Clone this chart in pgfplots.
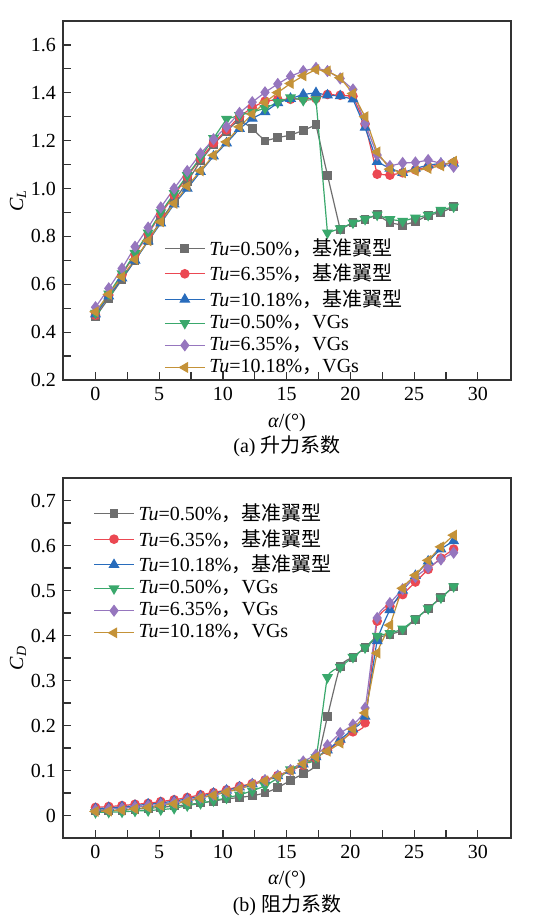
\documentclass[border=0pt]{standalone}
\usepackage{fontspec}
\setmainfont{Liberation Serif}
\newfontfamily\cjk{Noto Sans CJK SC}
\usepackage{pgfplots}
\usepackage{pgfplotstable}
\pgfplotsset{compat=1.18}

\definecolor{cgray}{RGB}{110,110,110}
\definecolor{cred}{RGB}{235,72,82}
\definecolor{cblue}{RGB}{40,108,188}
\definecolor{cgreen}{RGB}{58,168,108}
\definecolor{cpurple}{RGB}{150,118,190}
\definecolor{cgold}{RGB}{196,146,56}

% lift coefficient C_L versus angle of attack
% g/r/b: baseline airfoil at Tu = 0.50/6.35/10.18 %, v/p/o: with VGs
\pgfplotstableread{
a      g      r      b      v      p      o
0      0.464  0.471  0.475  0.480  0.504  0.485
1.04   0.541  0.555  0.550  0.560  0.583  0.558
2.08   0.620  0.640  0.625  0.645  0.666  0.631
3.10   0.700  0.725  0.700  0.730  0.757  0.704
4.13   0.783  0.810  0.780  0.815  0.837  0.782
5.12   0.866  0.893  0.855  0.900  0.921  0.861
6.17   0.948  0.972  0.935  0.980  1.000  0.938
7.20   1.028  1.050  1.000  1.055  1.073  1.010
8.24   1.115  1.125  1.070  1.130  1.146  1.074
9.26   1.185  1.190  1.135  1.210  1.206  1.139
10.28  1.240  1.245  1.190  1.290  1.258  1.195
11.30  1.290  1.300  1.250  1.306  1.316  1.258
12.30  1.250  1.339  1.293  1.320  1.361  1.311
13.30  1.199  1.365  1.320  1.335  1.402  1.360
14.30  1.213  1.372  1.358  1.360  1.437  1.401
15.30  1.223  1.373  1.376  1.380  1.469  1.439
16.30  1.243  1.376  1.393  1.369  1.491  1.471
17.30  1.266  1.376  1.400  1.372  1.504  1.497
18.20  1.056  1.393  1.390  0.815  1.491  1.491
19.20  0.829  1.390  1.387  0.833  1.460  1.463
20.20  0.857  1.386  1.373  0.857  1.414  1.397
21.15  0.872  1.270  1.255  0.872  1.272  1.300
22.10  0.890  1.060  1.112  0.890  1.140  1.153
23.10  0.857  1.056  1.084  0.871  1.094  1.081
24.10  0.847  1.066  1.066  0.864  1.107  1.066
25.10  0.861  1.078  1.084  0.878  1.109  1.074
26.10  0.889  1.090  1.098  0.889  1.119  1.084
27.10  0.899  1.100  1.105  0.910  1.105  1.095
28.10  0.924  1.108  1.105  0.924  1.091  1.114
}\lift

% drag coefficient C_D versus angle of attack
\pgfplotstableread{
a      g      r      b      v      p      o
0      0.010  0.018  0.015  0.007  0.012  0.009
1.04   0.011  0.020  0.017  0.0075 0.014  0.010
2.08   0.012  0.022  0.019  0.008  0.016  0.012
3.10   0.014  0.025  0.022  0.010  0.019  0.015
4.13   0.016  0.027  0.025  0.011  0.022  0.018
5.12   0.018  0.031  0.028  0.013  0.025  0.022
6.17   0.021  0.035  0.032  0.016  0.029  0.026
7.20   0.024  0.040  0.037  0.022  0.034  0.031
8.24   0.028  0.046  0.043  0.027  0.040  0.039
9.26   0.032  0.051  0.049  0.033  0.046  0.045
10.28  0.037  0.057  0.056  0.039  0.053  0.052
11.30  0.040  0.065  0.063  0.046  0.061  0.059
12.30  0.044  0.071  0.070  0.055  0.069  0.068
13.30  0.050  0.079  0.078  0.066  0.078  0.077
14.30  0.062  0.089  0.088  0.083  0.088  0.087
15.30  0.078  0.100  0.100  0.102  0.101  0.100
16.30  0.093  0.112  0.114  0.117  0.120  0.115
17.30  0.113  0.128  0.130  0.129  0.135  0.130
18.20  0.220  0.145  0.145  0.307  0.156  0.143
19.20  0.332  0.165  0.169  0.330  0.183  0.161
20.20  0.352  0.186  0.192  0.352  0.202  0.192
21.15  0.373  0.206  0.220  0.373  0.239  0.228
22.10  0.395  0.432  0.388  0.399  0.439  0.361
23.10  0.402  0.465  0.457  0.405  0.472  0.423
24.10  0.412  0.491  0.500  0.415  0.503  0.505
25.10  0.436  0.519  0.533  0.437  0.530  0.534
26.10  0.460  0.547  0.565  0.460  0.551  0.567
27.10  0.484  0.572  0.592  0.484  0.569  0.597
28.10  0.508  0.592  0.610  0.509  0.584  0.623
}\drag

\pgfplotsset{
  coefplot/.style={
    scale only axis, width=224pt,
    xmin=-2.55, xmax=32.6,
    xtick={0,5,10,15,20,25,30}, minor x tick num=1,
    tick pos=left, tick align=inside,
    major tick length=4pt, minor tick length=4pt,
    axis line style={line width=0.8pt, black!80},
    every tick/.style={black!80, line width=0.6pt},
    tick label style={font=\fontsize{10}{12}\selectfont},
    label style={font=\fontsize{10}{12}\selectfont},
    /pgf/number format/assume math mode=true,
    xlabel={\textit{α}/(°)},
    clip=false,
    legend cell align=left,
    legend style={draw=none, fill=none, inner sep=0pt,
      font=\fontsize{10}{11.6}\selectfont, row sep=-1.1pt},
    legend image code/.code={\draw[mark repeat=2,mark phase=2]
      plot coordinates {(0pt,0pt) (10pt,0pt) (20pt,0pt)};},
  },
  sg/.style={color=cgray, line width=0.6pt, mark=square*, mark size=1.9pt, mark options={solid}},
  sr/.style={color=cred, line width=0.6pt, mark=*, mark size=2.1pt, mark options={solid}},
  sb/.style={color=cblue, line width=0.6pt, mark=triangle*, mark size=2.6pt, mark options={solid}},
  sv/.style={color=cgreen, line width=0.6pt, mark=triangle*, mark size=2.6pt, mark options={solid, rotate=180}},
  sp/.style={color=cpurple, line width=0.6pt, mark=diamond*, mark size=2.6pt, mark options={solid}},
  so/.style={color=cgold, line width=0.6pt, mark=triangle*, mark size=2.6pt, mark options={solid, rotate=90}},
}

\begin{document}
\begin{tikzpicture}
% (a) lift
\begin{axis}[coefplot,
  at={(31.5pt,-190pt)}, anchor=south west, height=179.5pt,
  ymin=0.2, ymax=1.7,
  ytick={0.2,0.4,0.6,0.8,1.0,1.2,1.4,1.6}, minor y tick num=1,
  yticklabel style={/pgf/number format/fixed, /pgf/number format/fixed zerofill,
    /pgf/number format/precision=1},
  ylabel={\textit{C}\textsubscript{\textit{L}}},
  ylabel style={at={(rel axis cs:-0.1004,0.5)}, anchor=center},
  xlabel style={at={(rel axis cs:0.5,-0.12)}, anchor=center},
  legend style={at={(rel axis cs:0.225,0.407)}, anchor=north west},
]
\addplot[sg] table[x=a,y=g] {\lift};
\addplot[sr] table[x=a,y=r] {\lift};
\addplot[sb] table[x=a,y=b] {\lift};
\addplot[sv] table[x=a,y=v] {\lift};
\addplot[sp] table[x=a,y=p] {\lift};
\addplot[so] table[x=a,y=o] {\lift};
\legend{\textit{Tu}=0.50\%{\cjk ，基准翼型},
        \textit{Tu}=6.35\%{\cjk ，基准翼型},
        \textit{Tu}=10.18\%{\cjk ，基准翼型},
        \textit{Tu}=0.50\%{\cjk ，}VGs,
        \textit{Tu}=6.35\%{\cjk ，}VGs,
        \textit{Tu}=10.18\%{\cjk ，}VGs}
\node[font=\fontsize{10}{12}\selectfont] at (rel axis cs:0.5,-0.184) {(a) {\cjk 升力系数}};
\end{axis}

% (b) drag
\begin{axis}[coefplot,
  at={(31.5pt,-419pt)}, anchor=south west, height=180pt,
  ymin=-0.05, ymax=0.75,
  ytick={0,0.1,0.2,0.3,0.4,0.5,0.6,0.7}, minor y tick num=1,
  yticklabel style={/pgf/number format/fixed},
  ylabel={\textit{C}\textsubscript{\textit{D}}},
  ylabel style={at={(rel axis cs:-0.1004,0.5)}, anchor=center},
  xlabel style={at={(rel axis cs:0.5,-0.117)}, anchor=center},
  legend style={at={(rel axis cs:0.067,0.941)}, anchor=north west},
]
\addplot[sg, smooth, tension=0.3] table[x=a,y=g] {\drag};
\addplot[sr, smooth, tension=0.3] table[x=a,y=r] {\drag};
\addplot[sb, smooth, tension=0.3] table[x=a,y=b] {\drag};
\addplot[sv, smooth, tension=0.3] table[x=a,y=v] {\drag};
\addplot[sp, smooth, tension=0.3] table[x=a,y=p] {\drag};
\addplot[so, smooth, tension=0.3] table[x=a,y=o] {\drag};
\legend{\textit{Tu}=0.50\%{\cjk ，基准翼型},
        \textit{Tu}=6.35\%{\cjk ，基准翼型},
        \textit{Tu}=10.18\%{\cjk ，基准翼型},
        \textit{Tu}=0.50\%{\cjk ，}VGs,
        \textit{Tu}=6.35\%{\cjk ，}VGs,
        \textit{Tu}=10.18\%{\cjk ，}VGs}
\node[font=\fontsize{10}{12}\selectfont] at (rel axis cs:0.5,-0.186) {(b) {\cjk 阻力系数}};
\end{axis}

\pgfresetboundingbox
\path[use as bounding box] (0pt,0pt) rectangle (279pt,-459pt);
\end{tikzpicture}
\end{document}
